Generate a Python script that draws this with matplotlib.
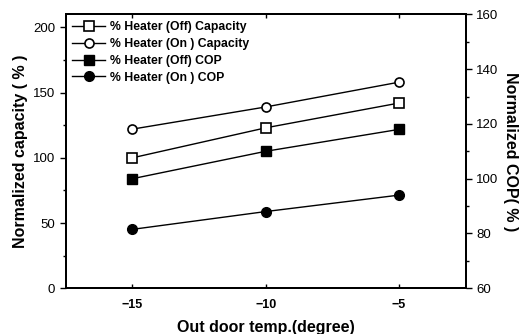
import matplotlib
matplotlib.use("Agg")
import matplotlib.pyplot as plt
from matplotlib.ticker import MultipleLocator

plt.rcParams['font.family'] = ['Liberation Sans', 'DejaVu Sans']

temps = [-15, -10, -5]
cap_off = [100, 123, 142]
cap_on = [122, 139, 158]
cop_off = [100, 110, 118]
cop_on = [81.5, 88, 94]

labels = ["% Heater (Off) Capacity", "% Heater (On ) Capacity",
          "% Heater (Off) COP", "% Heater (On ) COP"]

fig = plt.figure(figsize=(5.22, 3.34), dpi=100)
ax = fig.add_axes([0.126, 0.137, 0.766, 0.820])
ax2 = ax.twinx()

ms = 6.5
h1, = ax.plot(temps, cap_off, color='black', lw=1, marker='s', ms=ms,
              mfc='white', mec='black', mew=1.2)
h2, = ax.plot(temps, cap_on, color='black', lw=1, marker='o', ms=ms,
              mfc='white', mec='black', mew=1.2)
h3, = ax2.plot(temps, cop_off, color='black', lw=1, marker='s', ms=ms,
               mfc='black', mec='black')
h4, = ax2.plot(temps, cop_on, color='black', lw=1, marker='o', ms=ms + 0.5,
               mfc='black', mec='black')

ax.set_xlim(-17.5, -2.5)
ax.set_ylim(0, 210)
ax2.set_ylim(60, 160)
ax.set_xticks(temps)
ax.set_yticks([0, 50, 100, 150, 200])
ax.yaxis.set_minor_locator(MultipleLocator(25))
ax2.set_yticks([60, 80, 100, 120, 140, 160])
ax2.yaxis.set_minor_locator(MultipleLocator(10))

for a in (ax, ax2):
    for s in a.spines.values():
        s.set_linewidth(1.4)

ax.tick_params(axis='x', direction='in', top=True, length=3, width=1, labelsize=9, pad=8)
ax.tick_params(axis='y', which='major', direction='out', length=4, width=1, labelsize=9.5)
ax.tick_params(axis='y', which='minor', direction='out', length=2, width=1)
ax2.tick_params(axis='y', which='major', direction='out', length=4, width=1, labelsize=9.5)
ax2.tick_params(axis='y', which='minor', direction='out', length=2, width=1)
for t in ax.get_xticklabels():
    t.set_fontweight('bold')

ax.set_xlabel("Out door temp.(degree)", fontsize=11.5, fontweight='bold', labelpad=6)
ax.set_ylabel("Normalized capacity ( % )", fontsize=11.5, fontweight='bold', labelpad=4)
ax2.set_ylabel("Normalized COP( % )", fontsize=11.5, fontweight='bold',
               rotation=270, labelpad=14)

leg = ax.legend([h1, h2, h3, h4], labels, loc='upper left',
                bbox_to_anchor=(0.0, 1.0), frameon=False,
                prop={'size': 8.8, 'weight': 'bold'},
                handlelength=2.7, handletextpad=0.35, labelspacing=0.4,
                borderaxespad=0.35, borderpad=0.2)

fig.savefig("out.png", dpi=100)
